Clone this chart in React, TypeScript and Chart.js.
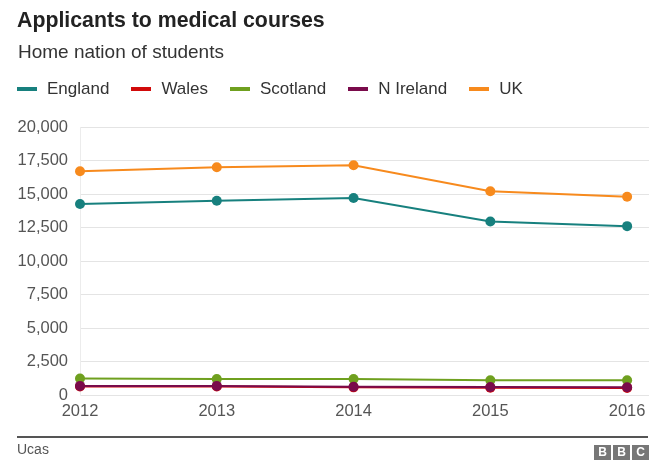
import React, { useEffect, useRef } from "react";
import { Chart, registerables } from "chart.js";

Chart.register(...registerables);

const years = [2012, 2013, 2014, 2015, 2016];
const england = [14250, 14500, 14700, 12950, 12600];
const wales = [640, 640, 570, 550, 530];
const scotland = [1230, 1200, 1200, 1100, 1100];
const nIreland = [680, 680, 620, 600, 580];
const uk = [16700, 17000, 17150, 15200, 14800];
const yTicks = [0, 2500, 5000, 7500, 10000, 12500, 15000, 17500, 20000];

const seriesNames = ["England", "Wales", "Scotland", "N Ireland", "UK"];
const seriesColors = ["#17807e", "#d10a0a", "#6fa01f", "#7a0b4b", "#f78a1d"];
const seriesValues = [england, wales, scotland, nIreland, uk];
const seriesOrder = [1, 3, 2, 0, 1];

const FONT = "'Liberation Sans', Arial, Helvetica, sans-serif";

export default function App() {
  const ref = useRef<HTMLCanvasElement | null>(null);

  useEffect(() => {
    if (!ref.current) return;
    const datasets = seriesNames.map((name, i) => ({
      label: name,
      data: years.map((yr, j) => ({ x: yr, y: seriesValues[i][j] })),
      borderColor: seriesColors[i],
      backgroundColor: seriesColors[i],
      pointBackgroundColor: seriesColors[i],
      pointBorderWidth: 0,
      pointRadius: 5,
      borderWidth: 2,
      tension: 0,
      clip: false as any,
      order: seriesOrder[i],
    }));
    const chart = new Chart(ref.current, {
      type: "line",
      data: { datasets },
      options: {
        animation: false,
        responsive: false,
        layout: { padding: { top: 127, right: 11, bottom: 51, left: 0 } },
        plugins: {
          legend: { display: false },
          title: { display: false },
          tooltip: { enabled: false },
        },
        scales: {
          x: {
            type: "linear",
            min: 2012,
            max: 2016.16,
            afterBuildTicks: (s: any) => {
              s.ticks = years.map((v) => ({ value: v }));
            },
            afterFit: (s: any) => {
              s.height = 30;
            },
            grid: { display: false, drawTicks: false },
            border: { display: false },
            ticks: {
              color: "#555",
              padding: 7,
              font: { family: FONT, size: 16.5 },
              callback: (v: any) => String(v),
              maxRotation: 0,
            },
          },
          y: {
            min: 0,
            max: 20000,
            afterBuildTicks: (s: any) => {
              s.ticks = yTicks.map((v) => ({ value: v }));
            },
            afterFit: (s: any) => {
              s.width = 80;
            },
            grid: { color: "#e4e4e4", lineWidth: 1, drawTicks: false },
            border: { display: true, color: "#ececec" },
            ticks: {
              color: "#555",
              padding: 12,
              font: { family: FONT, size: 16.5 },
              callback: (v: any) => Number(v).toLocaleString("en-US"),
            },
          },
        },
      },
    });
    return () => chart.destroy();
  }, []);

  return (
    <div
      style={{
        position: "absolute",
        left: 0,
        top: 0,
        width: 660,
        height: 476,
        background: "#fff",
        fontFamily: FONT,
        overflow: "hidden",
      }}
    >
      <canvas
        ref={ref}
        width={660}
        height={476}
        style={{ position: "absolute", left: 0, top: 0, display: "block" }}
      />
      <div
        style={{
          position: "absolute",
          left: 17,
          top: 8,
          fontSize: 21.3,
          lineHeight: "24px",
          fontWeight: "bold",
          color: "#222",
          whiteSpace: "nowrap",
        }}
      >
        Applicants to medical courses
      </div>
      <div
        style={{
          position: "absolute",
          left: 18,
          top: 41,
          fontSize: 19,
          lineHeight: "22px",
          color: "#333",
          whiteSpace: "nowrap",
        }}
      >
        Home nation of students
      </div>
      <div
        style={{
          position: "absolute",
          left: 17,
          top: 78,
          height: 22,
          display: "flex",
          alignItems: "center",
          whiteSpace: "nowrap",
        }}
      >
        {seriesNames.map((name, i) => (
          <div
            key={name}
            style={{ display: "flex", alignItems: "center", marginRight: 22 }}
          >
            <span
              style={{
                display: "inline-block",
                width: 20,
                height: 4,
                background: seriesColors[i],
                marginRight: 10,
              }}
            />
            <span style={{ fontSize: 17, lineHeight: "22px", color: "#333" }}>
              {name}
            </span>
          </div>
        ))}
      </div>
      <div
        style={{
          position: "absolute",
          left: 17,
          top: 436,
          width: 631,
          height: 2,
          background: "#555",
        }}
      />
      <div
        style={{
          position: "absolute",
          left: 17,
          top: 441,
          fontSize: 14,
          lineHeight: "16px",
          color: "#555",
        }}
      >
        Ucas
      </div>
      <div
        style={{
          position: "absolute",
          left: 594,
          top: 445,
          display: "flex",
          gap: 2,
        }}
      >
        {["B", "B", "C"].map((l, i) => (
          <div
            key={i}
            style={{
              width: 17,
              height: 15,
              background: "#777",
              color: "#fff",
              fontSize: 12,
              fontWeight: "bold",
              lineHeight: "15px",
              textAlign: "center",
            }}
          >
            {l}
          </div>
        ))}
      </div>
    </div>
  );
}
